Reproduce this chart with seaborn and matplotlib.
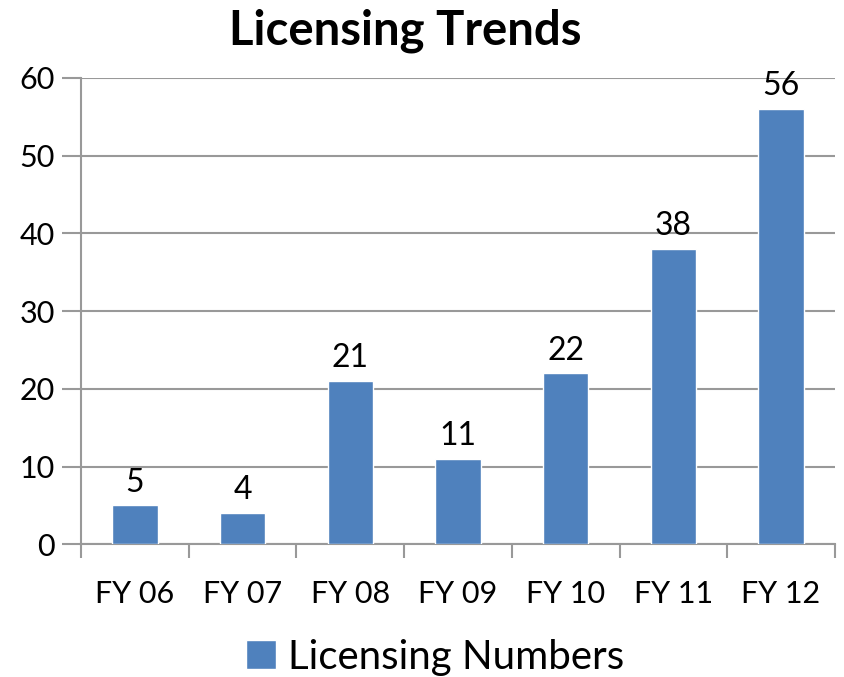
import matplotlib
matplotlib.use('Agg')
import matplotlib.pyplot as plt
import seaborn as sns
import numpy as np
import pandas as pd

years = ['FY 06', 'FY 07', 'FY 08', 'FY 09', 'FY 10', 'FY 11', 'FY 12']
licensing_numbers = [5, 4, 21, 11, 22, 38, 56]

df = pd.DataFrame({'year': years, 'count': licensing_numbers})

sns.set_style('white')
plt.rcParams['font.family'] = ['Lato', 'DejaVu Sans']
plt.rcParams['text.color'] = 'black'

fig = plt.figure(figsize=(8.45, 6.77), dpi=100)
ax = fig.add_axes([0.096, 0.196, 0.892, 0.689])

bar_color = '#4F81BD'
sns.barplot(data=df, x='year', y='count', color=bar_color, width=0.42,
            saturation=1, ax=ax, zorder=3, label='Licensing Numbers')

for i, v in enumerate(licensing_numbers):
    ax.text(i, v + 1.0, str(v), ha='center', va='bottom', fontsize=23, color='black')

ax.set_ylim(0, 60)
ax.set_xlim(-0.5, len(years) - 0.5)
ax.set_yticks(np.arange(0, 61, 10))
ax.yaxis.grid(True, color='#999999', linewidth=1.5, zorder=0)
ax.set_xlabel('')
ax.set_ylabel('')

grey = '#999999'
for s in ['top', 'right']:
    ax.spines[s].set_visible(False)
ax.spines['left'].set_color(grey)
ax.spines['left'].set_linewidth(1.5)
ax.spines['bottom'].set_color(grey)
ax.spines['bottom'].set_linewidth(1.5)

ax.tick_params(axis='y', which='major', direction='out', length=14, width=1.5,
               color=grey, labelsize=22, labelcolor='black', pad=5, left=True)
ax.tick_params(axis='x', which='major', length=0, labelsize=22, labelcolor='black', pad=26)
ax.set_xticks(np.arange(-0.5, len(years), 1), minor=True)
ax.tick_params(axis='x', which='minor', direction='out', length=10, width=1.5,
               color=grey, bottom=True)

ax.set_title('Licensing Trends', fontsize=34, fontweight='bold', pad=24, x=0.43,
             color='black')

ax.legend(loc='center', bbox_to_anchor=(0.47, -0.242), frameon=False,
          fontsize=29, handlelength=0.75, handleheight=0.75, handletextpad=0.3,
          borderpad=0)

fig.savefig('out.png', dpi=100)
